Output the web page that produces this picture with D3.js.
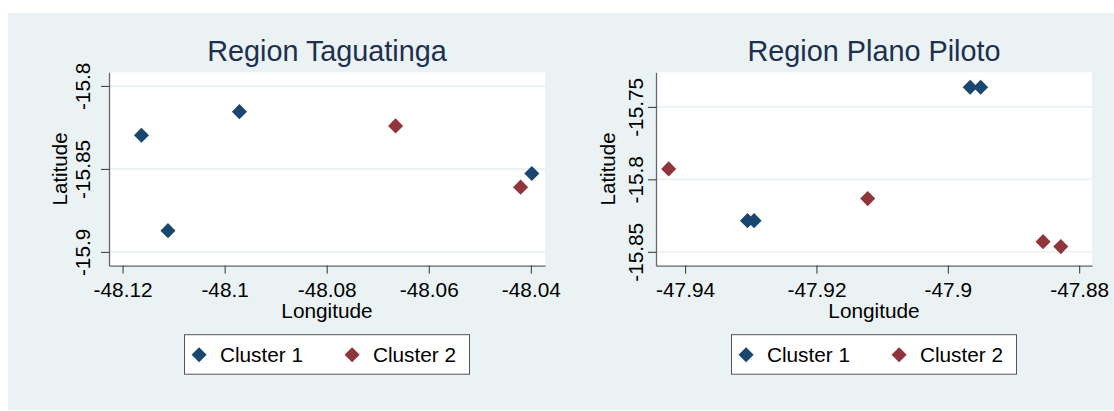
<!DOCTYPE html>
<html>
<head>
<meta charset="utf-8">
<script src="https://cdn.jsdelivr.net/npm/d3@7/dist/d3.min.js"></script>
<style>
  body { margin: 0; background: #fff; }
  svg text { font-family: 'Liberation Sans', Arial, sans-serif; }
</style>
</head>
<body>
<div id="chart"></div>
<script>
// cluster names
const clusters = ['Cluster 1', 'Cluster 2']

// Region Taguatinga
const tagC1Lon = [-48.1163, -48.0971, -48.1111, -48.0398]
const tagC1Lat = [-15.8297, -15.8155, -15.8872, -15.8528]
const tagC2Lon = [-48.0665, -48.0420]
const tagC2Lat = [-15.8241, -15.8610]
const tagXTicks = [-48.12, -48.1, -48.08, -48.06, -48.04]
const tagYTicks = [-15.8, -15.85, -15.9]

// Region Plano Piloto
const ppC1Lon = [-47.8966, -47.8950, -47.9305, -47.9295]
const ppC1Lat = [-15.7365, -15.7365, -15.8285, -15.8285]
const ppC2Lon = [-47.9425, -47.9122, -47.8855, -47.8828]
const ppC2Lat = [-15.7928, -15.8133, -15.8430, -15.8464]
const ppXTicks = [-47.94, -47.92, -47.9, -47.88]
const ppYTicks = [-15.75, -15.8, -15.85]

const colors = ['#1a476f', '#90353b']
const fmt = d => String(+d.toFixed(2))

const W = 1114, H = 411
const svg = d3.select('#chart').append('svg')
  .attr('width', W)
  .attr('height', H)

svg.append('rect')
  .attr('x', 8).attr('y', 13)
  .attr('width', W - 8).attr('height', 397)
  .attr('fill', '#eaf2f3')

function drawPanel ({ title, c1Lon, c1Lat, c2Lon, c2Lat, xDomain, yDomain, xTicks, yTicks, x0, x1, yLabGap, yTitleX }) {
  const y0 = 72.3, y1 = 265.6
  const x = d3.scaleLinear().domain(xDomain).range([x0, x1])
  const y = d3.scaleLinear().domain(yDomain).range([y1, y0])
  const g = svg.append('g')

  g.append('rect')
    .attr('x', x0).attr('y', y0)
    .attr('width', x1 - x0).attr('height', y1 - y0)
    .attr('fill', '#fff')

  // grid
  g.selectAll('.grid').data(yTicks).enter()
    .append('line')
    .attr('x1', x0).attr('x2', x1)
    .attr('y1', d => y(d)).attr('y2', d => y(d))
    .attr('stroke', '#eaf2f3')
    .attr('stroke-width', 1.6)

  // x axis
  g.append('g')
    .attr('transform', `translate(0,${y1})`)
    .call(d3.axisBottom(x).tickValues(xTicks).tickFormat(fmt).tickSize(8).tickSizeOuter(0))
    .call(g => g.select('.domain').attr('stroke', '#666').attr('stroke-width', 1.3))
    .call(g => g.selectAll('.tick line').attr('stroke', '#333'))
    .call(g => g.selectAll('.tick text')
      .attr('y', 31).attr('dy', 0)
      .attr('fill', '#000')
      .attr('font-size', '20.8px')
      .attr('font-family', "'Liberation Sans', Arial, sans-serif"))

  // y axis
  g.append('g')
    .attr('transform', `translate(${x0},0)`)
    .call(d3.axisLeft(y).tickValues(yTicks).tickFormat(fmt).tickSize(8).tickSizeOuter(0))
    .call(g => g.select('.domain').attr('stroke', '#666').attr('stroke-width', 1.3))
    .call(g => g.selectAll('.tick line').attr('stroke', '#333'))
    .call(g => g.selectAll('.tick text')
      .attr('transform', 'rotate(-90)')
      .attr('x', 0).attr('y', -yLabGap).attr('dy', 0)
      .attr('text-anchor', 'middle')
      .attr('fill', '#000')
      .attr('font-size', '20.8px')
      .attr('font-family', "'Liberation Sans', Arial, sans-serif"))

  const cx = (x0 + x1) / 2
  g.append('text')
    .attr('x', cx).attr('y', 60.7)
    .attr('text-anchor', 'middle')
    .attr('font-size', '28.8px')
    .attr('fill', '#1e2f4f')
    .text(title)

  g.append('text')
    .attr('x', cx).attr('y', 317.5)
    .attr('text-anchor', 'middle')
    .attr('font-size', '20.8px')
    .attr('fill', '#000')
    .text('Longitude')

  g.append('text')
    .attr('transform', `translate(${yTitleX},${(y0 + y1) / 2}) rotate(-90)`)
    .attr('text-anchor', 'middle')
    .attr('font-size', '20.5px')
    .attr('fill', '#000')
    .text('Latitude')

  const marker = d3.symbol().type(d3.symbolDiamond2).size(145)
  const series = [
    c1Lon.map((lon, i) => ({ lon, lat: c1Lat[i] })),
    c2Lon.map((lon, i) => ({ lon, lat: c2Lat[i] }))
  ]
  series.forEach((pts, k) => {
    g.selectAll(null).data(pts).enter()
      .append('path')
      .attr('d', marker)
      .attr('transform', d => `translate(${x(d.lon)},${y(d.lat)})`)
      .attr('fill', colors[k])
  })

  // legend
  const lw = 285, lh = 39.5, ly = 334.7
  const lx = cx - lw / 2
  const leg = g.append('g').attr('transform', `translate(${lx},${ly})`)
  leg.append('rect')
    .attr('width', lw).attr('height', lh)
    .attr('fill', '#fff')
    .attr('stroke', '#555')
    .attr('stroke-width', 1)
  clusters.forEach((name, k) => {
    leg.append('path')
      .attr('d', marker)
      .attr('transform', `translate(${14.6 + k * 153},${20})`)
      .attr('fill', colors[k])
    leg.append('text')
      .attr('x', 35.4 + k * 153).attr('y', 27.6)
      .attr('font-size', '20.8px')
      .attr('fill', '#000')
      .text(name)
  })
}

drawPanel({
  title: 'Region Taguatinga',
  c1Lon: tagC1Lon, c1Lat: tagC1Lat, c2Lon: tagC2Lon, c2Lat: tagC2Lat,
  xDomain: [-48.12266, -48.03722], yDomain: [-15.90825, -15.79181],
  xTicks: tagXTicks, yTicks: tagYTicks,
  x0: 109, x1: 545, yLabGap: 19, yTitleX: 66.7
})

drawPanel({
  title: 'Region Plano Piloto',
  c1Lon: ppC1Lon, c1Lat: ppC1Lat, c2Lon: ppC2Lon, c2Lat: ppC2Lat,
  xDomain: [-47.94443, -47.87805], yDomain: [-15.85952, -15.72614],
  xTicks: ppXTicks, yTicks: ppYTicks,
  x0: 656, x1: 1092, yLabGap: 12.7, yTitleX: 615
})
</script>
</body>
</html>
